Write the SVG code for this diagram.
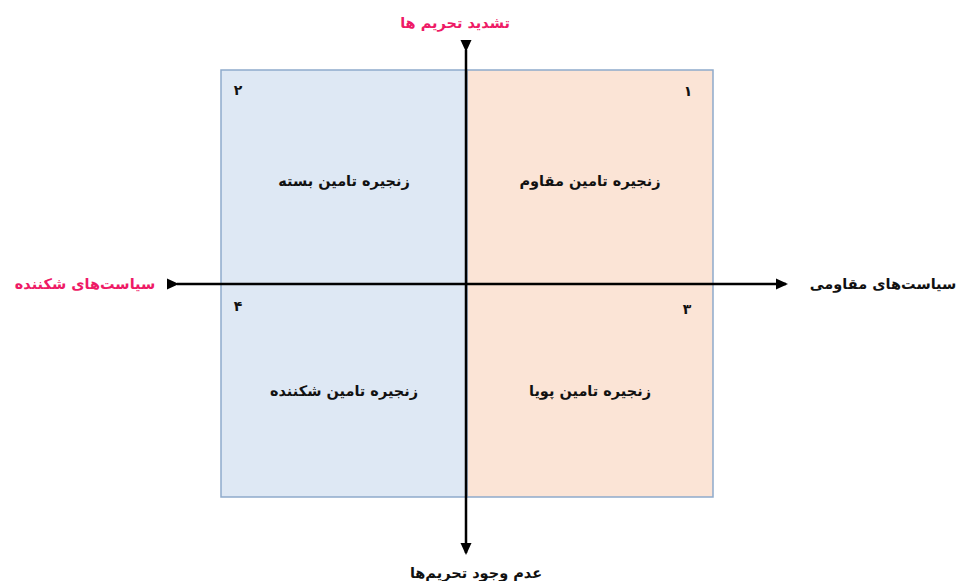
<svg xmlns="http://www.w3.org/2000/svg" width="960" height="581" viewBox="0 0 960 581">
<style>
.t{font-family:"DejaVu Sans","Noto Sans",sans-serif;font-weight:bold;font-size:14.5px;text-anchor:middle;fill:#111;direction:rtl;unicode-bidi:embed}
.p{fill:#ee1a66}
.n{font-size:14px}
.ax{stroke:#000;stroke-width:2.5;fill:none}
</style>
<defs>
<marker id="ah" markerWidth="12" markerHeight="12" refX="10" refY="6" orient="auto" markerUnits="userSpaceOnUse">
<path d="M0,0.5 L12,6 L0,11.5 z" fill="#000"/>
</marker>
</defs>
<rect width="960" height="581" fill="#fff"/>
<g id="q2"><rect x="221" y="70" width="246" height="427" fill="#dee8f4" stroke="#8eaacb" stroke-width="1.5"/>
<text class="t n" x="238" y="95">۲</text>
<text class="t" x="344" y="186">زنجیره تامین بسته</text></g>
<g id="q4"><text class="t n" x="238" y="311">۴</text>
<text class="t" x="344" y="396">زنجیره تامین شکننده</text></g>
<g id="q1"><rect x="467" y="70" width="246" height="427" fill="#fbe4d6" stroke="#8eaacb" stroke-width="1.5"/>
<text class="t n" x="688" y="96">۱</text>
<text class="t" x="590" y="186">زنجیره تامین مقاوم</text></g>
<g id="q3"><text class="t n" x="687" y="314">۳</text>
<text class="t" x="590" y="396">زنجیره تامین پویا</text></g>
<g id="connectors">
<line class="ax" x1="177" y1="284" x2="786" y2="284" marker-start="url(#ah)" marker-end="url(#ah)"/>
<line class="ax" x1="466" y1="50" x2="466" y2="553" marker-start="url(#ah)" marker-end="url(#ah)"/>
</g>
<g id="labels">
<text class="t p" x="455" y="28">تشدید تحریم ها</text>
<text class="t p" x="85" y="289">سیاست‌های شکننده</text>
<text class="t" x="883" y="289">سیاست‌های مقاومی</text>
<text class="t" x="476" y="578">عدم وجود تحریم‌ها</text>
</g>
</svg>
